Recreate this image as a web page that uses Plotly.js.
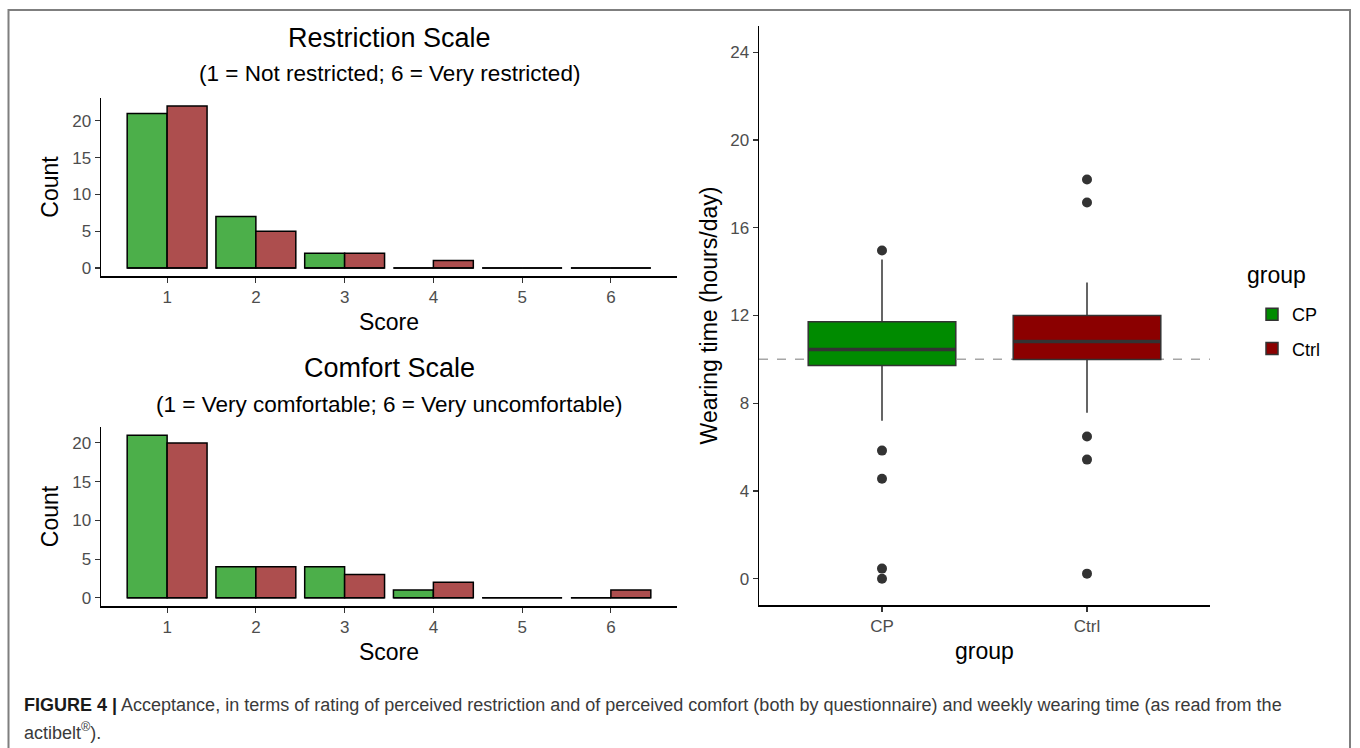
<!DOCTYPE html>
<html>
<head>
<meta charset="utf-8">
<script src="https://cdn.plot.ly/plotly-3.0.1.min.js"></script>
<style>
  html, body { margin: 0; padding: 0; background: #ffffff; }
  #chart { width: 1360px; height: 748px; }
</style>
</head>
<body>
<div id="chart"></div>
<script>
// ---------------- data ----------------
const scores = [1, 2, 3, 4, 5, 6];
const restrictionCP   = [21, 7, 2, 0, 0, 0];
const restrictionCtrl = [22, 5, 2, 1, 0, 0];
const comfortCP       = [21, 4, 4, 1, 0, 0];
const comfortCtrl     = [20, 4, 3, 2, 0, 1];

const groups = ['CP', 'Ctrl'];
const wearQ1      = [9.72, 9.99];
const wearMedian  = [10.45, 10.81];
const wearQ3      = [11.72, 12.0];
const wearLower   = [7.2, 7.57];
const wearUpper   = [14.55, 13.5];
const outliersCP   = [14.96, 5.84, 4.56, 0.46, 0.0];
const outliersCtrl = [18.2, 17.15, 6.48, 5.43, 0.23];
const wearThreshold = 10;

const yTicksCount = [0, 5, 10, 15, 20];
const yTicksWear  = [0, 4, 8, 12, 16, 20, 24];

// ---------------- styles ----------------
const FONT = 'Liberation Sans, Arial, Helvetica, sans-serif';
const GREEN_BAR = '#4caf4a';
const RED_BAR   = '#ad4e4e';
const GREEN_BOX = '#008b00';
const RED_BOX   = '#8b0000';
const BOX_WIDTH = 0.72;
const BAR_HALF  = 0.45;

const traces = [];

function barPanel(cpVals, ctrlVals, xa, ya) {
  traces.push({
    type: 'bar', x: scores, y: cpVals, name: 'CP', showlegend: false,
    marker: { color: GREEN_BAR, line: { color: '#000', width: 1.5 } },
    xaxis: xa, yaxis: ya, hoverinfo: 'skip'
  });
  traces.push({
    type: 'bar', x: scores, y: ctrlVals, name: 'Ctrl', showlegend: false,
    marker: { color: RED_BAR, line: { color: '#000', width: 1.5 } },
    xaxis: xa, yaxis: ya, hoverinfo: 'skip'
  });
  // zero-height bar outlines (drawn as baseline segments per score group)
  const bx = [], by = [];
  scores.forEach(s => { bx.push(s - BAR_HALF, s + BAR_HALF, null); by.push(0, 0, null); });
  traces.push({
    type: 'scatter', mode: 'lines', x: bx, y: by, showlegend: false,
    line: { color: '#000', width: 1.5 }, xaxis: xa, yaxis: ya, hoverinfo: 'skip'
  });
}

barPanel(restrictionCP, restrictionCtrl, 'x', 'y');
barPanel(comfortCP, comfortCtrl, 'x2', 'y2');

// box plots
const boxFills = [GREEN_BOX, RED_BOX];
const outliers = [outliersCP, outliersCtrl];
groups.forEach((g, i) => {
  traces.push({
    type: 'box', name: g, x: [i],
    q1: [wearQ1[i]], median: [wearMedian[i]], q3: [wearQ3[i]],
    lowerfence: [wearLower[i]], upperfence: [wearUpper[i]],
    width: BOX_WIDTH, whiskerwidth: 0, boxpoints: false,
    fillcolor: boxFills[i], line: { color: '#333333', width: 1.5 },
    xaxis: 'x3', yaxis: 'y3', legendgroup: g, showlegend: true, hoverinfo: 'skip'
  });
  traces.push({
    type: 'scatter', mode: 'lines',
    x: [i - BOX_WIDTH / 2, i + BOX_WIDTH / 2], y: [wearMedian[i], wearMedian[i]],
    line: { color: '#333333', width: 3.5 }, showlegend: false,
    xaxis: 'x3', yaxis: 'y3', hoverinfo: 'skip'
  });
  traces.push({
    type: 'scatter', mode: 'markers',
    x: outliers[i].map(() => i), y: outliers[i],
    marker: { color: '#333333', size: 10 }, showlegend: false,
    xaxis: 'x3', yaxis: 'y3', hoverinfo: 'skip'
  });
});

// ---------------- layout ----------------
const W = 1360, H = 748;
const px = v => v / W;
const py = v => 1 - v / H;

const tickFont = { family: FONT, size: 17, color: '#4d4d4d' };
const titleFont = { family: FONT, size: 23, color: '#000' };

function axisBase(extra) {
  return Object.assign({
    showline: true, linecolor: '#000', linewidth: 1.5,
    ticks: 'outside', ticklen: 5, tickwidth: 1.2, tickcolor: '#333',
    showgrid: false, zeroline: false, tickfont: tickFont, fixedrange: true
  }, extra);
}

function centerText(text, x, y, size) {
  return { text: text, x: px(x), y: py(y), xref: 'paper', yref: 'paper',
    xanchor: 'center', yanchor: 'middle', showarrow: false,
    font: { family: FONT, size: size, color: '#000' } };
}

const layout = {
  width: W, height: H,
  margin: { l: 0, r: 0, t: 0, b: 0 },
  paper_bgcolor: '#ffffff', plot_bgcolor: '#ffffff',
  font: { family: FONT },
  barmode: 'group', bargap: 0.1, bargroupgap: 0,
  boxmode: 'overlay',
  xaxis: axisBase({ domain: [px(101), px(677)], range: [0.255, 6.745], anchor: 'y',
    tickvals: scores, title: { text: 'Score', font: titleFont, standoff: 8 } }),
  yaxis: axisBase({ domain: [py(276), py(98)], range: [-1.1, 23.1], anchor: 'x',
    tickvals: yTicksCount, title: { text: 'Count', font: titleFont, standoff: 7 } }),
  xaxis2: axisBase({ domain: [px(101), px(677)], range: [0.255, 6.745], anchor: 'y2',
    tickvals: scores, title: { text: 'Score', font: titleFont, standoff: 8 } }),
  yaxis2: axisBase({ domain: [py(606), py(427)], range: [-1.05, 22.05], anchor: 'x2',
    tickvals: yTicksCount, title: { text: 'Count', font: titleFont, standoff: 7 } }),
  xaxis3: axisBase({ domain: [px(759), px(1210)], range: [-0.6, 1.6], anchor: 'y3',
    tickvals: [0, 1], ticktext: groups, title: { text: 'group', font: titleFont, standoff: 8 } }),
  yaxis3: axisBase({ domain: [py(605), py(26)], range: [-1.2, 25.2], anchor: 'x3',
    tickvals: yTicksWear, title: { text: 'Wearing time (hours/day)', font: titleFont, standoff: 6 } }),
  legend: {
    x: px(1252), y: py(296), xanchor: 'left', yanchor: 'top',
    font: { family: FONT, size: 18, color: '#000' },
    traceorder: 'grouped', tracegroupgap: 8, bgcolor: 'rgba(0,0,0,0)'
  },
  shapes: [
    { type: 'line', xref: 'x3 domain', x0: 0, x1: 1, yref: 'y3', y0: wearThreshold, y1: wearThreshold,
      line: { color: '#a6a6a6', width: 1.5, dash: 'dash' }, layer: 'below' },
    { type: 'rect', xref: 'paper', yref: 'paper', x0: px(8.5), x1: px(1350), y0: -0.05, y1: py(10),
      line: { color: '#7f7f7f', width: 2 }, fillcolor: 'rgba(0,0,0,0)', layer: 'above' }
  ],
  annotations: [
    centerText('Restriction Scale', 389, 38, 27),
    centerText('(1 = Not restricted; 6 = Very restricted)', 389, 74, 22.5),
    centerText('Comfort Scale', 389, 368, 27),
    centerText('(1 = Very comfortable; 6 = Very uncomfortable)', 389, 404, 22.5),
    { text: 'group', x: px(1245), y: py(275), xref: 'paper', yref: 'paper',
      xanchor: 'left', yanchor: 'middle', showarrow: false,
      font: { family: FONT, size: 23, color: '#000' } },
    { text: '<b><span style="color:#1a1a1a">FIGURE 4 |</span></b> Acceptance, in terms of rating of perceived restriction and of perceived comfort (both by questionnaire) and weekly wearing time (as read from the',
      x: px(22), y: py(705), xref: 'paper', yref: 'paper', xanchor: 'left', yanchor: 'middle',
      showarrow: false, font: { family: FONT, size: 18, color: '#3a3a3a' } },
    { text: 'actibelt<sup>®</sup>).',
      x: px(22), y: py(731), xref: 'paper', yref: 'paper', xanchor: 'left', yanchor: 'middle',
      showarrow: false, font: { family: FONT, size: 18, color: '#3a3a3a' } }
  ]
};

Plotly.newPlot('chart', traces, layout, { displayModeBar: false, staticPlot: true });
</script>
</body>
</html>
